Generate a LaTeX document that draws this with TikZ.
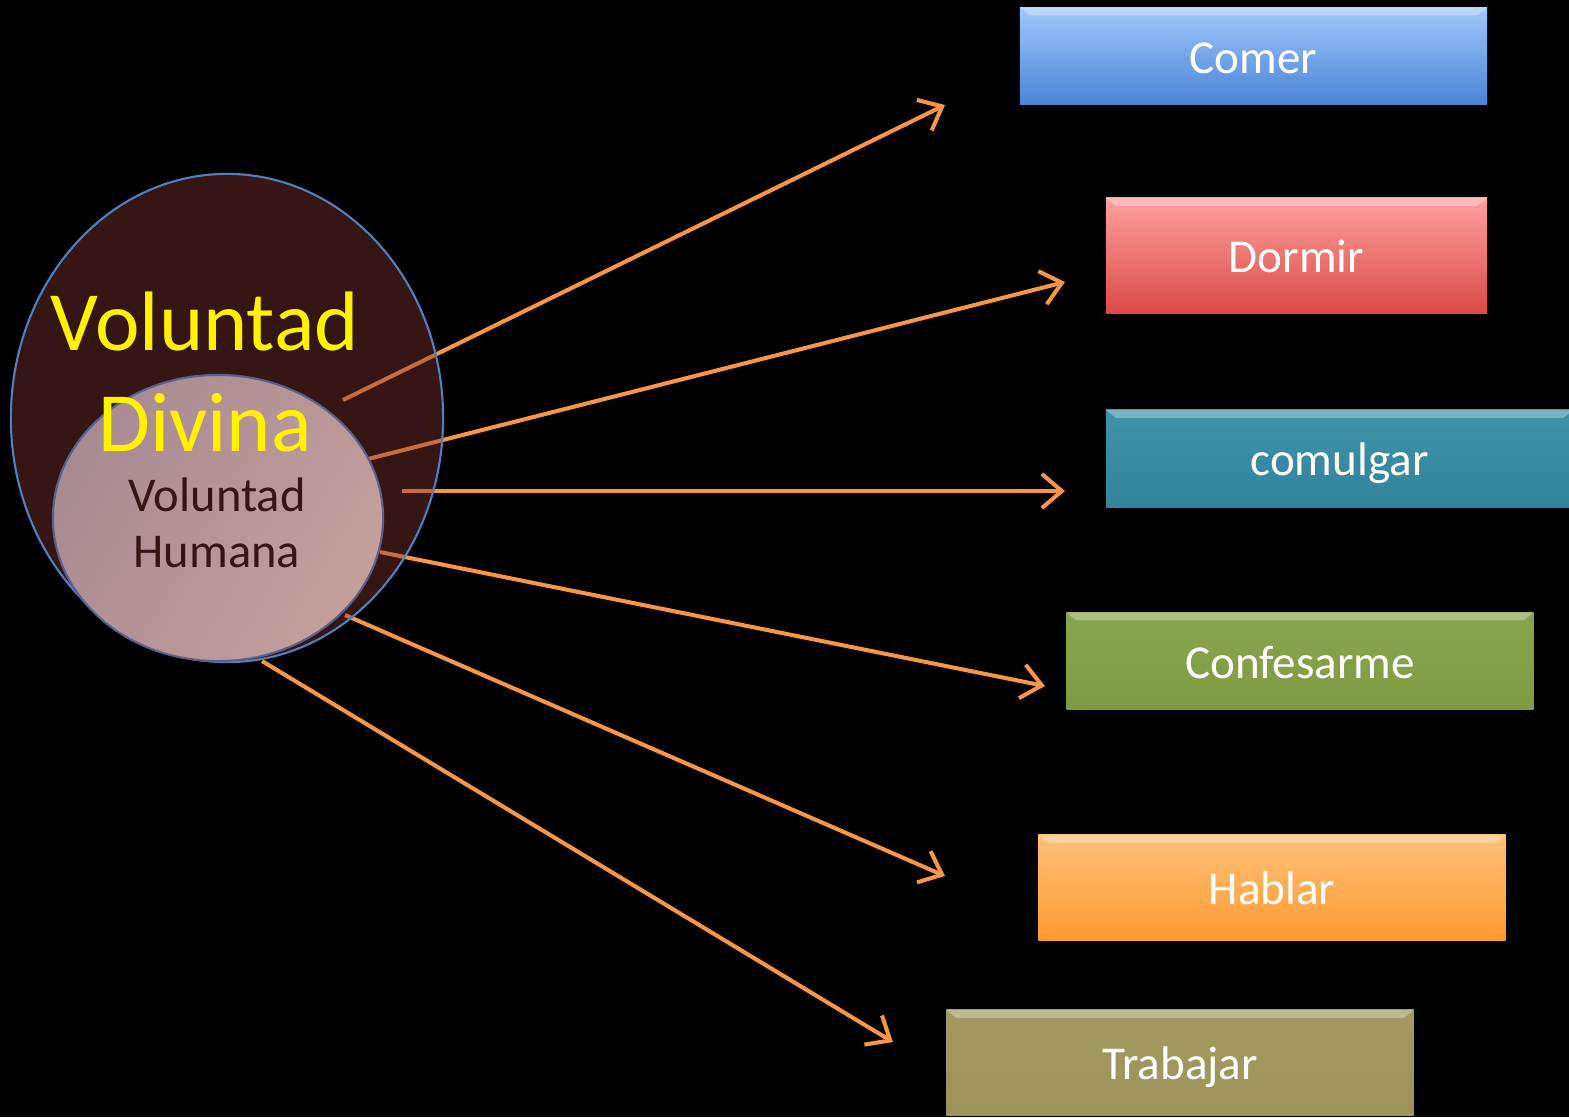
\documentclass[tikz,border=0pt]{standalone}
\usepackage{xcolor}
\usepackage{tikz}
\usepackage{fontspec}
\setmainfont{Carlito}
\usetikzlibrary{shapes.geometric, arrows.meta, positioning}
\definecolor{arrowcolor}{RGB}{247, 150, 70}
\definecolor{divinacolor}{RGB}{132, 51, 51}
\definecolor{circleline}{RGB}{79, 129, 189}
\definecolor{humanaline}{RGB}{91, 95, 140}
\definecolor{humanatext}{RGB}{54, 21, 21}

\begin{document}
\begin{tikzpicture}[
    x=0.01cm, y=-0.01cm,
    action/.style={rectangle, minimum width=4.67cm, minimum height=0.97cm,
        text=white, font=\fontsize{13.4}{16}\selectfont, inner sep=0pt, text height=0.34cm, text depth=0pt,
        path picture={\fill[white, opacity=0.3] (path picture bounding box.north west) -- (path picture bounding box.north east)
            -- ([xshift=-0.1cm, yshift=-0.08cm]path picture bounding box.north east) -- ([xshift=0.1cm, yshift=-0.08cm]path picture bounding box.north west) -- cycle;}},
    link/.style={-{Straight Barb[length=2mm, width=3.4mm]}, draw=arrowcolor, line width=1.15pt}
]

\useasboundingbox (0,0) rectangle (1569,1117);
\clip (0,0) rectangle (1569,1117);
\fill[black] (0,0) rectangle (1569,1117);

% Arrow ends
\coordinate (s1) at (343,400);  \coordinate (e1) at (945,105);
\coordinate (s2) at (368,459);  \coordinate (e2) at (1065,282);
\coordinate (s3) at (402,491);  \coordinate (e3) at (1065,491);
\coordinate (s4) at (380,552);  \coordinate (e4) at (1045,686);
\coordinate (s5) at (345,615);  \coordinate (e5) at (945,876);
\coordinate (s6) at (262,661);  \coordinate (e6) at (893,1042);

\draw[link] (s1) -- (e1);
\draw[link] (s2) -- (e2);
\draw[link] (s3) -- (e3);
\draw[link] (s4) -- (e4);
\draw[link] (s5) -- (e5);
\draw[link] (s6) -- (e6);

% Wills
\node[ellipse, draw=circleline, line width=0.6pt, fill=divinacolor, fill opacity=0.41,
    minimum width=4.32cm, minimum height=4.88cm, inner sep=0pt] (divina) at (227,418) {};
\node[ellipse, draw=humanaline, line width=0.6pt, left color={rgb,255:red,168;green,138;blue,146}, right color={rgb,255:red,196;green,160;blue,157},
    shading angle=60, minimum width=3.30cm, minimum height=2.86cm, inner sep=0pt] (humana) at (218,518) {};

\node[text=yellow, align=center, font=\fontsize{24}{29}\selectfont] (divinalabel) at (205,372) {Voluntad\\Divina};
\node[text=humanatext, align=center, font=\fontsize{13.8}{16}\selectfont] (humanalabel) at (217,523) {Voluntad\\Humana};

% Actions
\node[action, top color={rgb,255:red,160;green,198;blue,252}, bottom color={rgb,255:red,74;green,133;blue,213}] (comer) at (1253.5,56) {Comer};
\node[action, minimum width=3.81cm, minimum height=1.15cm, top color={rgb,255:red,253;green,160;blue,158}, bottom color={rgb,255:red,220;green,74;blue,71}] (dormir) at (1296.5,255.5) {Dormir};
\node[action, top color={rgb,255:red,62;green,146;blue,170}, bottom color={rgb,255:red,51;green,132;blue,156}] (comulgar) at (1339.5,458.5) {comulgar};
\node[action, top color={rgb,255:red,136;green,164;blue,76}, bottom color={rgb,255:red,127;green,155;blue,67}] (confesarme) at (1300,661) {Confesarme};
\node[action, minimum height=1.05cm, top color={rgb,255:red,255;green,192;blue,122}, bottom color={rgb,255:red,255;green,154;blue,48}] (hablar) at (1272,887.5) {Hablar};
\node[action, minimum height=1.05cm, top color={rgb,255:red,162;green,154;blue,96}, bottom color={rgb,255:red,156;green,148;blue,90}] (trabajar) at (1180,1062.5) {Trabajar};

\end{tikzpicture}
\end{document}
